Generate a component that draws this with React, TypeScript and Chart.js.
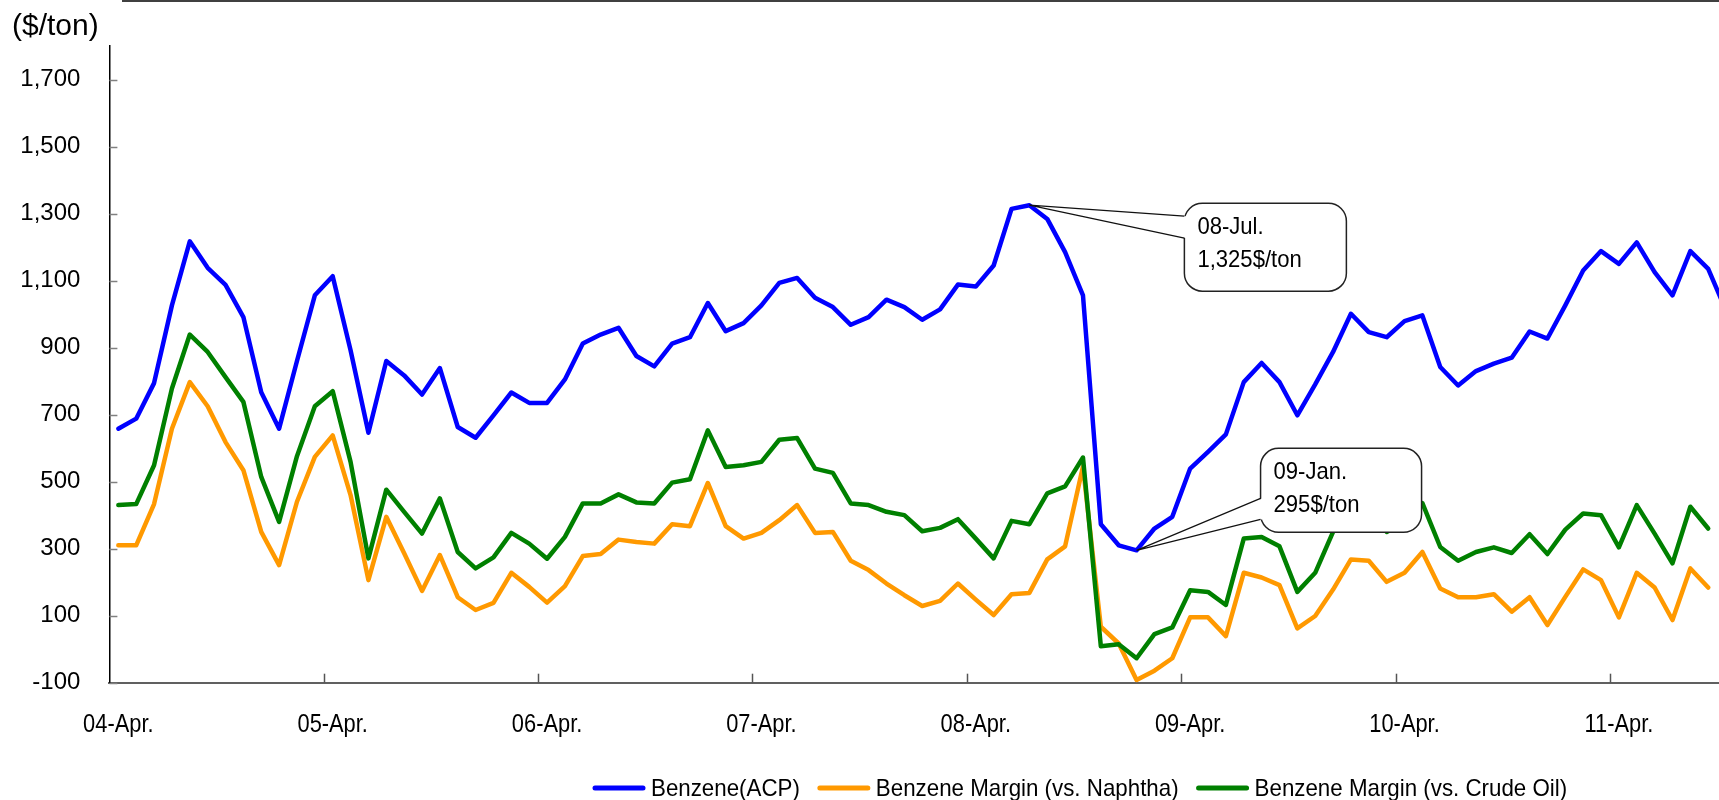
import { useEffect, useRef } from 'react';
import { Chart, registerables } from 'chart.js';

Chart.register(...registerables);

// Monthly series, starting April 2004
const START_YEAR = 2004;
const START_MONTH = 3; // 0-based: April
const MONTH_NAMES = ['Jan.', 'Feb.', 'Mar.', 'Apr.', 'May.', 'Jun.', 'Jul.', 'Aug.', 'Sep.', 'Oct.', 'Nov.', 'Dec.'];

const BENZENE_ACP = [
  658, 688, 794, 1026, 1217, 1138, 1087, 991, 767, 658,
  860, 1056, 1113, 892, 646, 860, 817, 760, 839, 663,
  631, 698, 766, 735, 735, 805, 912, 939, 959, 875,
  844, 912, 931, 1033, 949, 973, 1026, 1093, 1108, 1049,
  1021, 968, 991, 1043, 1021, 983, 1014, 1088, 1082, 1145,
  1314, 1325, 1284, 1185, 1056, 373, 310, 295, 360, 395,
  539, 589, 641, 797, 854, 797, 698, 790, 887, 1001,
  946, 931, 979, 996, 842, 787, 830, 852, 870, 948,
  927, 1026, 1130, 1188, 1150, 1214, 1125, 1056, 1188, 1135,
  1010,
];

const MARGIN_VS_NAPHTHA = [
  310, 310, 433, 658, 797, 725, 618, 534, 350, 251,
  440, 574, 638, 460, 206, 395, 286, 174, 281, 155,
  117, 138, 228, 186, 139, 188, 278, 284, 327, 320,
  315, 373, 367, 496, 367, 330, 347, 385, 430, 347,
  350, 264, 236, 196, 161, 129, 144, 196, 148, 102,
  164, 168, 268, 307, 545, 67, 17, -92, -64, -27,
  95, 95, 39, 228, 214, 191, 62, 99, 178, 268,
  264, 201, 228, 290, 181, 155, 155, 164, 112, 155,
  72, 156, 238, 206, 95, 228, 184, 87, 241, 184,
];

const MARGIN_VS_CRUDE = [
  430, 433, 549, 778, 939, 887, 812, 738, 514, 380,
  576, 725, 770, 559, 271, 476, 410, 345, 450, 290,
  241, 274, 347, 315, 270, 335, 435, 435, 462, 438,
  435, 497, 507, 653, 544, 549, 559, 625, 630, 539,
  526, 435, 430, 410, 400, 352, 362, 388, 330, 271,
  383, 373, 465, 486, 572, 9, 15, -27, 45, 65,
  176, 171, 132, 330, 335, 307, 171, 228, 350, 420,
  415, 350, 378, 436, 305, 264, 290, 304, 287, 343,
  284, 357, 405, 400, 304, 430, 345, 256, 425, 360,
];

const SERIES_NAMES = ['Benzene(ACP)', 'Benzene Margin (vs. Naphtha)', 'Benzene Margin (vs. Crude Oil)'];
const SERIES_COLORS = ['#0000FF', '#FF9900', '#008000'];

const Y_MIN = -100;
const Y_MAX = 1800;
const Y_TICKS = [-100, 100, 300, 500, 700, 900, 1100, 1300, 1500, 1700];
const LABEL_EVERY = 12; // one labelled tick per year

// Annotated points: index into BENZENE_ACP
const CALLOUT_INDICES = [51, 57];

const CATEGORIES = BENZENE_ACP.map((_, i) => {
  const m = START_MONTH + i;
  const y = START_YEAR + Math.floor(m / 12);
  return `${String(y % 100).padStart(2, '0')}-${MONTH_NAMES[m % 12]}`;
});

const FONT = '"Liberation Sans", Arial, sans-serif';

// Callout box geometry, relative to the annotated point
const CALLOUT_BOXES = [
  { dx: 155, dy: -2, w: 162, h: 88, r: 18, a1: 13, a2: 35 },
  { dx: 124, dy: -102, w: 161, h: 84, r: 18, a1: 50, a2: 71 },
];

const CANVAS_W = 1735;
const CANVAS_H = 800;

function roundedRectPath(ctx: CanvasRenderingContext2D, x: number, y: number, w: number, h: number, r: number) {
  ctx.beginPath();
  ctx.moveTo(x + r, y);
  ctx.lineTo(x + w - r, y);
  ctx.arcTo(x + w, y, x + w, y + r, r);
  ctx.lineTo(x + w, y + h - r);
  ctx.arcTo(x + w, y + h, x + w - r, y + h, r);
  ctx.lineTo(x + r, y + h);
  ctx.arcTo(x, y + h, x, y + h - r, r);
  ctx.lineTo(x, y + r);
  ctx.arcTo(x, y, x + r, y, r);
  ctx.closePath();
}

// Draws text squeezed horizontally, returns the drawn width
function condensedText(
  ctx: CanvasRenderingContext2D,
  text: string,
  x: number,
  y: number,
  squeeze: number,
  align: 'left' | 'center',
) {
  const w = ctx.measureText(text).width * squeeze;
  ctx.save();
  ctx.translate(align === 'center' ? x - w / 2 : x, y);
  ctx.scale(squeeze, 1);
  ctx.textAlign = 'left';
  ctx.fillText(text, 0, 0);
  ctx.restore();
  return w;
}

const decorPlugin = {
  id: 'benzeneDecor',
  afterDatasetsDraw(chart: any) {
    const { ctx, scales } = chart;
    const xs = scales.x;
    const ys = scales.y;
    CALLOUT_INDICES.forEach((idx, k) => {
      const box = CALLOUT_BOXES[k];
      const tipX = xs.getPixelForValue(idx);
      const tipY = ys.getPixelForValue(BENZENE_ACP[idx]);
      const bx = tipX + box.dx;
      const by = tipY + box.dy;
      ctx.save();
      roundedRectPath(ctx, bx, by, box.w, box.h, box.r);
      ctx.fillStyle = '#ffffff';
      ctx.fill();
      ctx.lineWidth = 1.5;
      ctx.strokeStyle = '#222222';
      ctx.stroke();
      // pointer wedge
      ctx.beginPath();
      ctx.moveTo(bx + 2, by + box.a1);
      ctx.lineTo(tipX, tipY);
      ctx.lineTo(bx + 2, by + box.a2);
      ctx.closePath();
      ctx.fillStyle = '#ffffff';
      ctx.fill();
      ctx.beginPath();
      ctx.moveTo(bx, by + box.a1);
      ctx.lineTo(tipX, tipY);
      ctx.lineTo(bx, by + box.a2);
      ctx.lineWidth = 1.2;
      ctx.strokeStyle = '#111111';
      ctx.stroke();
      // text
      ctx.fillStyle = '#000000';
      ctx.font = `24px ${FONT}`;
      ctx.textBaseline = 'alphabetic';
      condensedText(ctx, CATEGORIES[idx], bx + 13, by + 31, 0.92, 'left');
      condensedText(ctx, `${BENZENE_ACP[idx].toLocaleString('en-US')}$/ton`, bx + 13, by + 64, 0.92, 'left');
      ctx.restore();
    });
  },
  afterDraw(chart: any) {
    const { ctx, scales, chartArea } = chart;
    const xs = scales.x;
    const ys = scales.y;
    ctx.save();

    // rule across the top
    ctx.beginPath();
    ctx.moveTo(122, 1);
    ctx.lineTo(chart.width, 1);
    ctx.lineWidth = 1.5;
    ctx.strokeStyle = '#000000';
    ctx.stroke();

    // unit title
    ctx.fillStyle = '#000000';
    ctx.font = `30px ${FONT}`;
    ctx.textAlign = 'left';
    ctx.textBaseline = 'alphabetic';
    ctx.fillText('($/ton)', 12, 35);

    // y tick marks pointing into the plot
    ctx.strokeStyle = '#808080';
    ctx.lineWidth = 1.5;
    Y_TICKS.forEach((v) => {
      const y = Math.round(ys.getPixelForValue(v)) + 0.5;
      ctx.beginPath();
      ctx.moveTo(chartArea.left, y);
      ctx.lineTo(chartArea.left + 8, y);
      ctx.stroke();
    });

    // x tick marks at year boundaries
    ctx.strokeStyle = '#555555';
    for (let i = LABEL_EVERY; i < CATEGORIES.length; i += LABEL_EVERY) {
      const x = Math.round(xs.getPixelForValue(i - 0.5)) + 0.5;
      ctx.beginPath();
      ctx.moveTo(x, chartArea.bottom);
      ctx.lineTo(x, chartArea.bottom - 9);
      ctx.stroke();
    }

    // year labels, centred on the April category
    ctx.fillStyle = '#000000';
    ctx.font = `26px ${FONT}`;
    ctx.textBaseline = 'alphabetic';
    for (let i = 0; i < CATEGORIES.length; i += LABEL_EVERY) {
      condensedText(ctx, CATEGORIES[i], xs.getPixelForValue(i), chartArea.bottom + 49, 0.84, 'center');
    }

    // legend
    let lx = 595;
    const ly = 788;
    ctx.font = `24px ${FONT}`;
    ctx.textBaseline = 'middle';
    chart.data.datasets.forEach((ds: any) => {
      ctx.beginPath();
      ctx.moveTo(lx, ly);
      ctx.lineTo(lx + 48, ly);
      ctx.lineWidth = 5;
      ctx.lineCap = 'round';
      ctx.strokeStyle = ds.borderColor;
      ctx.stroke();
      ctx.fillStyle = '#000000';
      const w = condensedText(ctx, ds.label, lx + 56, ly + 1, 0.93, 'left');
      lx += 56 + w + 20;
    });
    ctx.restore();
  },
};

export default function App() {
  const canvasRef = useRef<HTMLCanvasElement | null>(null);

  useEffect(() => {
    const canvas = canvasRef.current;
    if (!canvas) return;
    const seriesData = [BENZENE_ACP, MARGIN_VS_NAPHTHA, MARGIN_VS_CRUDE];
    const chart = new Chart(canvas, {
      type: 'line',
      data: {
        labels: CATEGORIES,
        datasets: seriesData.map((d, i) => ({
          label: SERIES_NAMES[i],
          data: d,
          borderColor: SERIES_COLORS[i],
          backgroundColor: SERIES_COLORS[i],
          borderWidth: 4.5,
          pointRadius: 0,
          pointHoverRadius: 0,
          tension: 0,
          borderJoinStyle: 'round',
          borderCapStyle: 'round',
          fill: false,
          order: seriesData.length - 1 - i,
        })),
      },
      options: {
        responsive: false,
        maintainAspectRatio: false,
        devicePixelRatio: 1,
        animation: false,
        events: [],
        layout: { padding: { top: 46, left: 0, right: 0, bottom: 0 } },
        plugins: {
          legend: { display: false },
          tooltip: { enabled: false },
        },
        scales: {
          x: {
            type: 'category',
            offset: true,
            grid: { display: false, drawTicks: false },
            border: { display: true, color: '#606060', width: 2 },
            afterFit: (scale: any) => {
              scale.height = 117.3;
            },
            ticks: { display: false, autoSkip: false, maxRotation: 0, minRotation: 0 },
          },
          y: {
            type: 'linear',
            min: Y_MIN,
            max: Y_MAX,
            grid: { display: false, drawTicks: false },
            border: { display: true, color: '#000000', width: 1.5 },
            afterFit: (scale: any) => {
              scale.width = 109.4;
            },
            afterBuildTicks: (scale: any) => {
              scale.ticks = Y_TICKS.map((v) => ({ value: v }));
            },
            ticks: {
              padding: 29,
              color: '#000000',
              font: { family: FONT, size: 24 },
              callback: (v: any) => Number(v).toLocaleString('en-US'),
            },
          },
        },
      },
      plugins: [decorPlugin],
    } as any);
    return () => chart.destroy();
  }, []);

  return (
    <div
      style={{
        position: 'absolute',
        left: 0,
        top: 0,
        width: 1719,
        height: CANVAS_H,
        overflow: 'hidden',
        background: '#ffffff',
      }}
    >
      <div style={{ width: CANVAS_W, height: CANVAS_H }}>
        <canvas
          ref={canvasRef}
          width={CANVAS_W}
          height={CANVAS_H}
          style={{ display: 'block', width: CANVAS_W, height: CANVAS_H }}
        />
      </div>
    </div>
  );
}
